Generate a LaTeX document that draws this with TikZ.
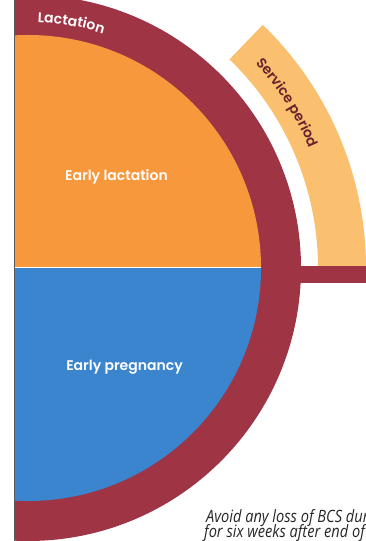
\documentclass[tikz,border=0pt]{standalone}
\usepackage{fontspec}
\IfFontExistsTF{Poppins SemiBold}
  {\setmainfont{Poppins}[BoldFont={Poppins SemiBold}]}
  {\setmainfont{Poppins}[BoldFeatures={FakeBold=1.2}]}
\newfontfamily\notefont[FakeStretch=0.86]{Open Sans}
\usetikzlibrary{decorations.text}
\definecolor{ringred}{RGB}{158,52,68}
\definecolor{orangefill}{RGB}{247,152,60}
\definecolor{bluefill}{RGB}{58,133,206}
\definecolor{sand}{RGB}{250,192,112}
\definecolor{darktext}{RGB}{105,35,45}
\tikzset{
  inlabel/.style={text=white, font=\bfseries\fontsize{14}{16}\selectfont, inner sep=0pt},
  notelabel/.style={font=\notefont\itshape\fontsize{17}{18}\selectfont, inner sep=0pt, anchor=base west, text=black!85}
}
\begin{document}
\begin{tikzpicture}[x=1pt,y=1pt]
\useasboundingbox (0,0) rectangle (366,541);
\coordinate (C) at (28,273);
\begin{scope}
  \clip (14,0) rectangle (366,541);
  \fill[ringred] (C) circle[radius=273];
  \fill[orangefill] (C) ++(233,0) arc[start angle=0,end angle=180,radius=233] -- cycle;
  \fill[bluefill] (C) ++(233,0) arc[start angle=0,end angle=-180,radius=233] -- cycle;
  \draw[white, line width=1pt] (14,273) -- (261,273);
  \fill[sand] (C) ++(0:290) arc[start angle=0,end angle=46,radius=290]
     -- ++(46:48) arc[start angle=46,end angle=0,radius=338] -- cycle;
  \fill[ringred] (290,258) rectangle (366,275);
\end{scope}
\draw[black!65, line width=0.8pt] (14,0) -- (14,541);
% curved labels
\path[decorate, decoration={text along path, text align=center,
   text={|\bfseries\fontsize{14}{14}\selectfont\color{white}|Lactation}}]
   (C) ++(95:246) arc[start angle=95,end angle=65,radius=246];
\path[decorate, decoration={text along path, text align=center,
   text={|\bfseries\fontsize{14}{14}\selectfont\color{darktext}|Service period}}]
   (C) ++(45:306) arc[start angle=45,end angle=20,radius=306];
\node[inlabel, anchor=base] (early1) at (116.5,360) {Early lactation};
\node[inlabel, anchor=base] (early2) at (124.5,170) {Early pregnancy};
\begin{scope}
  \clip (0,0) rectangle (366,541);
  \node[notelabel] (note1) at (206,19) {Avoid any loss of BCS during};
  \node[notelabel] (note2) at (204,3) {for six weeks after end of};
\end{scope}
\end{tikzpicture}
\end{document}
